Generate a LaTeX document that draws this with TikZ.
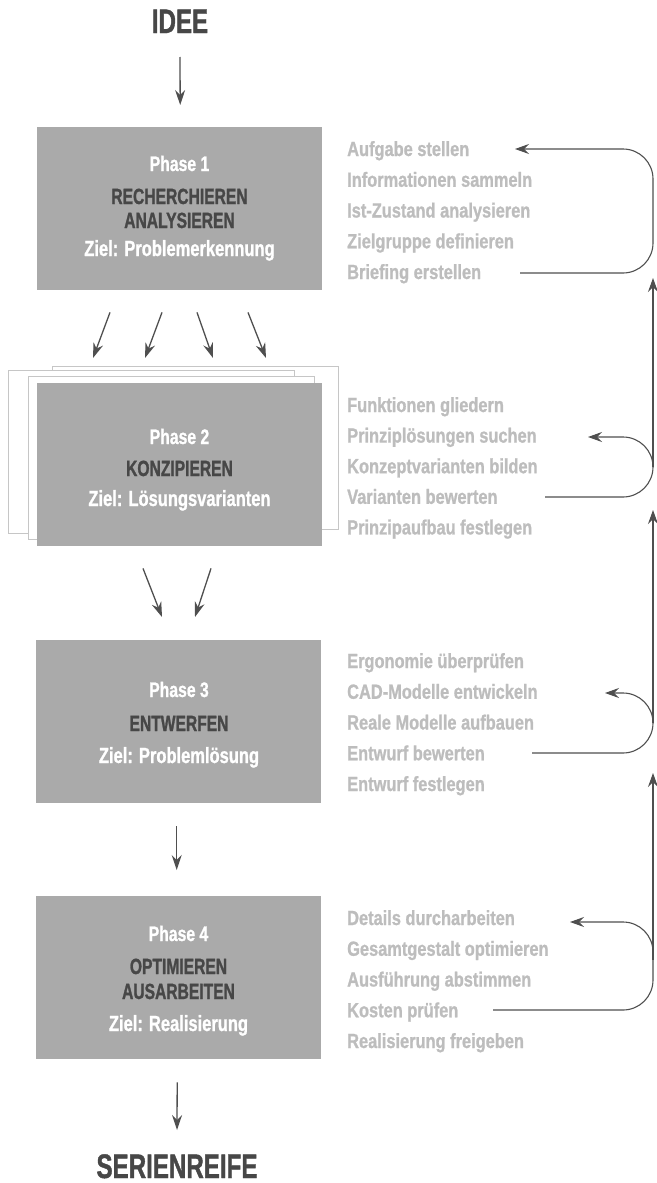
\documentclass[tikz,border=0pt]{standalone}
\usepackage{fontspec}
\usetikzlibrary{arrows.meta,calc}
\newfontfamily\bodyfont[FakeStretch=0.8,FakeBold=1]{Liberation Sans Bold}
\newfontfamily\boxfont[FakeStretch=0.75,FakeBold=1]{Liberation Sans Bold}
\newfontfamily\capsfont[FakeStretch=0.71,FakeBold=1.2]{Liberation Sans Bold}
\definecolor{boxgray}{HTML}{AAAAAA}
\definecolor{titlegray}{HTML}{474747}
\definecolor{listgray}{HTML}{BDBDBD}
\definecolor{linegray}{HTML}{4F4F4F}
\definecolor{sheetline}{HTML}{C6C6C6}
\begin{document}
\begin{tikzpicture}[x=1pt,y=-1pt,
  phasebox/.style={fill=boxgray, draw=none, minimum width=285pt, minimum height=163pt, inner sep=0pt, anchor=north west},
  sheet/.style={fill=white, draw=sheetline, line width=0.8pt, minimum width=286pt, minimum height=163pt, inner sep=0pt, anchor=north west},
  phaselabel/.style={text=white, font=\boxfont\fontsize{21}{21}\selectfont, inner sep=0pt, anchor=base},
  phasetitle/.style={text=titlegray, font=\capsfont\fontsize{22}{22}\selectfont, inner sep=0pt, anchor=base},
  phasegoal/.style={text=white, font=\boxfont\fontsize{22}{22}\selectfont, inner sep=0pt, anchor=base},
  headline/.style={text=titlegray, font=\capsfont\fontsize{34}{34}\selectfont, inner sep=0pt, anchor=base},
  item/.style={text=listgray, font=\bodyfont\fontsize{20.5}{20.5}\selectfont, inner sep=0pt, anchor=base west},
  flow/.style={draw=linegray, line width=1.3pt, -{Stealth[length=15pt, width=10pt, inset=5pt]}},
  loopline/.style={draw=linegray, line width=1.1pt, rounded corners=30pt, -{Stealth[length=14pt, width=10pt, inset=5pt]}},
  rail/.style={draw=linegray, line width=1.1pt, -{Stealth[length=14pt, width=10pt, inset=5pt]}}
]
\useasboundingbox (0,0) rectangle (656,1183);

% start and end labels
\node[headline] (idee) at (180,33) {IDEE};
\node[headline] (serie) at (177,1178) {SERIENREIFE};

% phase 1
\node[phasebox] (p1) at (37,127) {};
\node[phaselabel] (p1a) at (179.5,171) {Phase 1};
\node[phasetitle] (p1b) at (179.5,204) {RECHERCHIEREN};
\node[phasetitle] (p1c) at (179.5,228) {ANALYSIEREN};
\node[phasegoal]  (p1d) at (179.5,256) {Ziel: Problemerkennung};

% phase 2 with stacked sheets behind it
\node[sheet] (s3) at (52,366) {};
\node[sheet] (s1) at (8,370) {};
\node[sheet] (s2) at (28,376) {};
\node[phasebox] (p2) at (37,383) {};
\node[phaselabel] (p2a) at (179.5,444) {Phase 2};
\node[phasetitle] (p2b) at (179.5,476) {KONZIPIEREN};
\node[phasegoal]  (p2c) at (179.5,506) {Ziel: Lösungsvarianten};

% phase 3
\node[phasebox] (p3) at (36,640) {};
\node[phaselabel] (p3a) at (179,697) {Phase 3};
\node[phasetitle] (p3b) at (179,731) {ENTWERFEN};
\node[phasegoal]  (p3c) at (179,763) {Ziel: Problemlösung};

% phase 4
\node[phasebox] (p4) at (36,896) {};
\node[phaselabel] (p4a) at (178.5,941) {Phase 4};
\node[phasetitle] (p4b) at (178.5,974) {OPTIMIEREN};
\node[phasetitle] (p4c) at (178.5,999) {AUSARBEITEN};
\node[phasegoal]  (p4d) at (178.5,1031) {Ziel: Realisierung};

% task lists
\foreach \t [count=\i] in {Aufgabe stellen, Informationen sammeln, Ist-Zustand analysieren, Zielgruppe definieren, Briefing erstellen}
  \node[item] (l1\i) at (347,{156+30.75*(\i-1)}) {\t};
\foreach \t [count=\i] in {Funktionen gliedern, Prinziplösungen suchen, Konzeptvarianten bilden, Varianten bewerten, Prinzipaufbau festlegen}
  \node[item] (l2\i) at (347,{412+30.6*(\i-1)}) {\t};
\foreach \t [count=\i] in {Ergonomie überprüfen, CAD-Modelle entwickeln, Reale Modelle aufbauen, Entwurf bewerten, Entwurf festlegen}
  \node[item] (l3\i) at (347,{668+30.75*(\i-1)}) {\t};
\foreach \t [count=\i] in {Details durcharbeiten, Gesamtgestalt optimieren, Ausführung abstimmen, Kosten prüfen, Realisierung freigeben}
  \node[item] (l4\i) at (347,{925+30.75*(\i-1)}) {\t};

% main flow
\draw[flow] ([yshift=-24pt]idee.base) -- ([xshift=0.5pt,yshift=22pt]p1.north);
\draw[flow] ([xshift=73pt,yshift=-22pt]p1.south west) -- ([xshift=56pt,yshift=25pt]p2.north west);
\draw[flow] ([xshift=125pt,yshift=-22pt]p1.south west) -- ([xshift=108pt,yshift=25pt]p2.north west);
\draw[flow] ([xshift=160pt,yshift=-22pt]p1.south west) -- ([xshift=176pt,yshift=25pt]p2.north west);
\draw[flow] ([xshift=211pt,yshift=-22pt]p1.south west) -- ([xshift=229pt,yshift=25pt]p2.north west);
\draw[flow] ([xshift=106pt,yshift=-22pt]p2.south west) -- ([xshift=126pt,yshift=23pt]p3.north west);
\draw[flow] ([xshift=174pt,yshift=-22pt]p2.south west) -- ([xshift=159pt,yshift=23pt]p3.north west);
\draw[flow] ([xshift=-2pt,yshift=-23pt]p3.south) -- ([xshift=-2pt,yshift=26pt]p4.north);
\draw[flow] ([xshift=-1.5pt,yshift=-23pt]p4.south) -- ([yshift=48pt]serie.base);

% feedback loops along the right-hand rail
\coordinate (railx) at (653,0);
\coordinate (r1s) at (520,273);  \coordinate (r1e) at (515,149);
\coordinate (r2s) at (545,497);  \coordinate (r2e) at (588,437);
\coordinate (r3s) at (532,753);  \coordinate (r3e) at (605,693);
\coordinate (r4s) at (493,1010); \coordinate (r4e) at (570,922);
\draw[loopline] (r1s) -- (r1s -| railx) -- (r1e -| railx) -- (r1e);
\draw[loopline] (r2s) -- (r2s -| railx) -- (r2e -| railx) -- (r2e);
\draw[loopline] (r3s) -- (r3s -| railx) -- (r3e -| railx) -- (r3e);
\draw[loopline] (r4s) -- (r4s -| railx) -- (r4e -| railx) -- (r4e);

% upward links between the loops
\coordinate (u2) at (653,467);  \coordinate (t1) at (653,278);
\coordinate (u3) at (653,723);  \coordinate (t2) at (653,510);
\coordinate (u4) at (653,960);  \coordinate (t3) at (653,773);
\draw[rail] (u2) -- (t1);
\draw[rail] (u3) -- (t2);
\draw[rail] (u4) -- (t3);
\end{tikzpicture}
\end{document}
